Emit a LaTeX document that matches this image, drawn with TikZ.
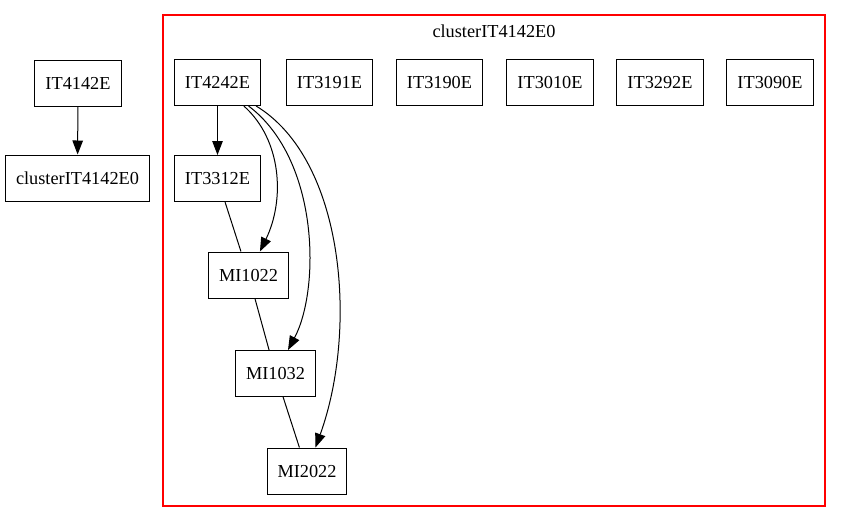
\documentclass[tikz,border=0pt]{standalone}
\usepackage{fontspec}
\setmainfont{Liberation Serif}
\usepackage{tikz}
\usetikzlibrary{arrows.meta,calc}

\begin{document}
\begin{tikzpicture}[
	x=1pt, y=1pt,
	every node/.style={font=\fontsize{18.3}{22}\selectfont},
	box/.style={draw, line width=1pt, rectangle, minimum width=72pt, minimum height=46pt, inner xsep=10.5pt},
	dep/.style={draw, line width=1pt, -{Triangle[length=14pt,width=10.5pt]}},
	link/.style={draw, line width=1pt},
	clusterbox/.style={draw=red, line width=1.15pt}
	]
	\useasboundingbox (0,0) rectangle (842,-523);
	% cluster frame
	\path[clusterbox] (163,-15) rectangle (825,-506);
	\node[inner sep=0pt] (clab) at (494,-31) {clusterIT4142E0};
	% outside nodes
	\node[box] (it4142e) at (78,-83.5) {IT4142E};
	\node[box] (cl0) at (77.5,-178) {clusterIT4142E0};
	% top row
	\node[box] (it4242e) at (217.5,-82.5) {IT4242E};
	\node[box] (it3191e) at (329.5,-82.5) {IT3191E};
	\node[box] (it3190e) at (439.5,-82.5) {IT3190E};
	\node[box] (it3010e) at (550,-82.5) {IT3010E};
	\node[box] (it3292e) at (660,-82.5) {IT3292E};
	\node[box] (it3090e) at (770,-82.5) {IT3090E};
	% chain
	\node[box] (it3312e) at (217.5,-178.5) {IT3312E};
	\node[box] (mi1022) at (248.5,-275) {MI1022};
	\node[box] (mi1032) at (275.5,-373.5) {MI1032};
	\node[box] (mi2022) at (307,-471) {MI2022};

	\draw[dep] (it4142e) -- (cl0);
	\draw[dep] (it4242e) -- (it3312e);
	\draw[dep] (it4242e) .. controls (282,-140) and (285,-200) .. (mi1022);
	\draw[dep] (it4242e) .. controls (320,-160) and (320,-290) .. (mi1032);
	\draw[dep] (it4242e) .. controls (345,-160) and (358,-330) .. (mi2022);
	\draw[link] (it3312e) -- (mi1022);
	\draw[link] (mi1022) -- (mi1032);
	\draw[link] (mi1032) -- (mi2022);
\end{tikzpicture}
\end{document}
